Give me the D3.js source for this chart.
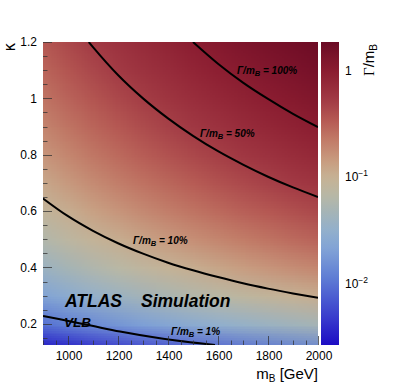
<!DOCTYPE html>
<html>
<head>
<meta charset="utf-8">
<script src="https://cdn.jsdelivr.net/npm/d3@7"></script>
<style>
html,body{margin:0;padding:0;background:#fff;}
svg{display:block;font-family:"Liberation Sans",Arial,Helvetica,sans-serif;}
</style>
</head>
<body>
<svg id="chart" width="399" height="389"></svg>
<script>
// ---------------- DATA ----------------
const massGrid = [900,1000,1100,1200,1300,1400,1500,1600,1700,1800,1900,2000];
const kappaGrid = [0.1,0.2,0.3,0.4,0.5,0.6,0.7,0.8,0.9,1.0,1.1,1.2];
// Gamma/m_B, one row per kappa (ascending), columns follow massGrid
const widthRatio = [
  [0.00243,0.0030,0.00363,0.00432,0.00507,0.00588,0.00675,0.00768,0.00867,0.00972,0.0108,0.012],
  [0.00972,0.012,0.0145,0.0173,0.0203,0.0235,0.027,0.0307,0.0347,0.0389,0.0433,0.048],
  [0.0219,0.027,0.0327,0.0389,0.0456,0.0529,0.0608,0.0691,0.078,0.0875,0.0975,0.108],
  [0.0389,0.048,0.0581,0.0691,0.0811,0.0941,0.108,0.123,0.139,0.156,0.173,0.192],
  [0.0608,0.075,0.0908,0.108,0.127,0.147,0.169,0.192,0.217,0.243,0.271,0.30],
  [0.0875,0.108,0.131,0.156,0.183,0.212,0.243,0.276,0.312,0.350,0.390,0.432],
  [0.119,0.147,0.178,0.212,0.248,0.288,0.331,0.376,0.425,0.476,0.531,0.588],
  [0.156,0.192,0.232,0.276,0.324,0.376,0.432,0.492,0.555,0.622,0.693,0.768],
  [0.197,0.243,0.294,0.350,0.411,0.476,0.547,0.622,0.702,0.787,0.877,0.972],
  [0.243,0.300,0.363,0.432,0.507,0.588,0.675,0.768,0.867,0.972,1.083,1.200],
  [0.294,0.363,0.439,0.523,0.613,0.711,0.817,0.929,1.049,1.176,1.310,1.452],
  [0.350,0.432,0.523,0.622,0.730,0.847,0.972,1.106,1.248,1.400,1.560,1.728]
];
// contour lines [m_B, kappa]
const contour100 = [[1500,1.2],[1600,1.123],[1700,1.056],[1800,0.998],[1900,0.945],[2000,0.898]];
const contour50 = [[1083,1.2],[1100,1.182],[1200,1.083],[1300,1.0],[1400,0.929],[1500,0.867],[1600,0.8125],[1700,0.765],[1800,0.722],[1900,0.684],[2000,0.650]];
const contour10 = [[900,0.645],[1000,0.582],[1100,0.530],[1200,0.486],[1300,0.449],[1400,0.417],[1500,0.390],[1600,0.366],[1700,0.344],[1800,0.325],[1900,0.308],[2000,0.2925]];
const contour1 = [[900,0.228],[968,0.216],[1096,0.193],[1208,0.173],[1368,0.149],[1588,0.125]];
const contourLabels = ["100%","50%","10%","1%"];
const xTickValues = [1000,1200,1400,1600,1800,2000];
const yTickValues = [0.2,0.4,0.6,0.8,1.0,1.2];
const zTickValues = [1,0.1,0.01];
// palette (log10 value -> colour)
const paletteLog = [-2.57,-2.34,-2.15,-1.96,-1.68,-1.5,-1.31,-1.17,-1.0,-0.85,-0.66,-0.47,-0.28,0.0,0.265];
const paletteCol = ["#1c0cc4","#3636cc","#4858d0","#5c7ad4","#80a2d6","#92b0cc","#a6b4b4","#b8b8a6","#c6b294","#c89c80","#c27c68","#b65a54","#a23a44","#8a1c30","#6a0a24"];

// ---------------- LAYOUT ----------------
const svg = d3.select("#chart");
const X0=43, X1=318, Y0=42, Y1=345;
const x = d3.scaleLinear().domain([900,2000]).range([X0,X1]);
const y = d3.scaleLinear().domain([0.125,1.2]).range([Y1,Y0]);
const z = d3.scaleLog().domain([0.0027,1.84]).range([Y1,Y0]);
const pal = d3.scaleLinear().domain(paletteLog).range(paletteCol).interpolate(d3.interpolateRgb).clamp(true);
const colorOf = v => pal(Math.log10(v));

// heat map image
const nx = massGrid.length, ny = kappaGrid.length;
const cv = document.createElement("canvas");
cv.width = nx; cv.height = ny;
const ctx = cv.getContext("2d");
kappaGrid.forEach((k,r)=>{
  massGrid.forEach((m,i)=>{
    ctx.fillStyle = colorOf(widthRatio[r][i]);
    ctx.fillRect(i, ny-1-r, 1, 1);
  });
});
const dm = massGrid[1]-massGrid[0], dk = kappaGrid[1]-kappaGrid[0];
const defs = svg.append("defs");
defs.append("clipPath").attr("id","plotclip").append("rect")
  .attr("x",X0).attr("y",Y0).attr("width",X1-X0).attr("height",Y1-Y0);
const ix0 = x(massGrid[0]-dm/2), ix1 = x(massGrid[nx-1]+dm/2);
const iy0 = y(kappaGrid[ny-1]+dk/2), iy1 = y(kappaGrid[0]-dk/2);
svg.append("g").attr("clip-path","url(#plotclip)")
  .append("image")
  .attr("href", cv.toDataURL())
  .attr("x",ix0).attr("y",iy0).attr("width",ix1-ix0).attr("height",iy1-iy0)
  .attr("preserveAspectRatio","none");

// contour lines
const line = d3.line().x(d=>x(d[0])).y(d=>y(d[1])).curve(d3.curveMonotoneX);
const gC = svg.append("g").attr("clip-path","url(#plotclip)");
[contour100,contour50,contour10,contour1].forEach(c=>{
  gC.append("path").attr("d",line(c)).attr("fill","none").attr("stroke","#000").attr("stroke-width",2);
});

// ticks
const tickCol = "#333";
const gT = svg.append("g").attr("stroke",tickCol).attr("stroke-opacity",0.75).attr("stroke-width",1);
d3.range(900,2001,50).forEach(v=>{
  const major = (v%200===0);
  gT.append("line").attr("x1",Math.round(x(v))+0.5).attr("x2",Math.round(x(v))+0.5)
    .attr("y1",Y1).attr("y2",Y1-(major?9:4.5));
});
d3.range(0,22).map(i=>+(0.15+i*0.05).toFixed(2)).filter(v=>v<=1.2001).forEach(v=>{
  const major = Math.abs(v*5-Math.round(v*5))<1e-6;
  gT.append("line").attr("y1",Math.round(y(v))+0.5).attr("y2",Math.round(y(v))+0.5)
    .attr("x1",X0).attr("x2",X0+(major?9:4.5));
});

// axis labels
svg.append("g").selectAll("text").data(xTickValues).join("text")
  .attr("x",d=>x(d)+1).attr("y",360).attr("text-anchor","middle")
  .attr("font-size",12).attr("fill","#000").text(d=>d);
svg.append("g").selectAll("text").data(yTickValues).join("text")
  .attr("x",37).attr("y",d=>y(d)).attr("dy","0.35em").attr("text-anchor","end")
  .attr("font-size",12).attr("fill","#000").text(d=>d3.format("")(d));

// axis titles
const xt = svg.append("text").attr("x",X1).attr("y",379).attr("text-anchor","end").attr("font-size",15);
xt.append("tspan").text("m");
xt.append("tspan").attr("font-size",10).attr("dy",3).text("B");
xt.append("tspan").attr("dy",-3).text(" [GeV]");
svg.append("text").attr("transform","translate(15,47) rotate(-90)").attr("text-anchor","middle")
  .attr("font-size",15).attr("font-family","DejaVu Sans").text("κ");

// colour bar
const CB0=321, CB1=339;
const grad = defs.append("linearGradient").attr("id","cbgrad").attr("x1",0).attr("y1",1).attr("x2",0).attr("y2",0);
const [zl0,zl1] = z.domain().map(Math.log10);
d3.range(0,1.0001,0.02).forEach(t=>{
  grad.append("stop").attr("offset",t).attr("stop-color",pal(zl0+t*(zl1-zl0)));
});
svg.append("rect").attr("x",CB0).attr("y",Y0).attr("width",CB1-CB0).attr("height",Y1-Y0).attr("fill","url(#cbgrad)");
const zMinor = [];
[0.001,0.01,0.1,1].forEach(dec=>{ for(let k=1;k<10;k++){ const v=dec*k; if(v>=0.0027 && v<=1.84) zMinor.push(v);} });
zMinor.forEach(v=>{
  const major = zTickValues.some(t=>Math.abs(t-v)<1e-9);
  gT.append("line").attr("x1",CB1).attr("x2",CB1-(major?9:4.5))
    .attr("y1",Math.round(z(v))+0.5).attr("y2",Math.round(z(v))+0.5);
});
const zl = svg.append("g").attr("font-size",12);
zl.append("text").attr("x",345).attr("y",z(1)).attr("dy","0.35em").text("1");
[[0.1,"−1"],[0.01,"−2"]].forEach(([v,e])=>{
  const t = zl.append("text").attr("x",345).attr("y",z(v)).attr("dy","0.35em");
  t.append("tspan").text("10");
  t.append("tspan").attr("font-size",8.5).attr("dy",-5).text(e);
});
const zt = svg.append("text").attr("transform","translate(374,44) rotate(-90)").attr("text-anchor","end").attr("font-size",15);
zt.append("tspan").attr("font-family","Liberation Serif").text("Γ");
zt.append("tspan").text("/m");
zt.append("tspan").attr("font-size",10).attr("dy",3).text("B");

// contour labels
const labelPos = [[237,74],[200,137],[133,244],[171,335]];
contourLabels.forEach((lab,i)=>{
  const t = svg.append("text").attr("x",labelPos[i][0]).attr("y",labelPos[i][1])
    .attr("font-size",10).attr("font-weight","bold").attr("font-style","italic");
  t.append("tspan").text("Γ/m");
  t.append("tspan").attr("font-size",7.5).attr("dy",2).text("B");
  t.append("tspan").attr("dy",-2).text(" = "+lab);
});

// ATLAS label
const at = svg.append("text").attr("x",65).attr("y",307).attr("font-size",17.5).attr("font-weight","bold").attr("font-style","italic");
at.append("tspan").text("ATLAS");
at.append("tspan").attr("x",141).text("Simulation");
svg.append("text").attr("x",64).attr("y",327).attr("font-size",13.5).attr("font-weight","bold").attr("font-style","italic").text("VLB");
</script>
</body>
</html>
